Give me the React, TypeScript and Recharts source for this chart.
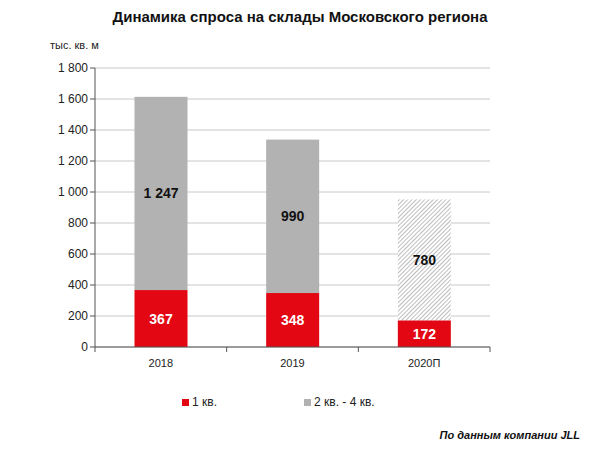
import React from 'react';
import { BarChart, Bar, XAxis, YAxis, CartesianGrid, LabelList } from 'recharts';

const years = ['2018', '2019', '2020П'];
const firstQuarter = [367, 348, 172];
const restOfYear = [1247, 990, 780];
const yTicks = [0, 200, 400, 600, 800, 1000, 1200, 1400, 1600, 1800];

const data = years.map((year, i) => ({
  year,
  q1: firstQuarter[i],
  rest: restOfYear[i],
  forecast: i === years.length - 1,
}));

const RED = '#e30613';
const GRAY = '#b2b2b2';
const FONT = '"Liberation Sans", Arial, sans-serif';

// 1800 -> "1 800"
const fmt = (v: number | string) => String(v).replace(/\B(?=(\d{3})+(?!\d))/g, ' ');
// same, but with a no-break space so bar labels stay on one line
const fmtLabel = (v: number | string) => String(v).replace(/\B(?=(\d{3})+(?!\d))/g, '\u00a0');

// category ticks, plus tick marks at the category boundaries
const XTick = (props: any) => {
  const { x, y, payload, index } = props;
  const band = 395 / 3;
  return (
    <g>
      {index === 0 && <line x1={x - band / 2} x2={x - band / 2} y1={y - 8} y2={y - 3} stroke="#555" />}
      <line x1={x + band / 2} x2={x + band / 2} y1={y - 8} y2={y - 3} stroke="#555" />
      <text x={x} y={y + 12} textAnchor="middle" fontSize={11} fill="#222" fontFamily={FONT}>
        {payload.value}
      </text>
    </g>
  );
};

const RestShape = (props: any) => {
  const { x, y, width, height, payload } = props;
  return (
    <rect x={x} y={y} width={width} height={height} fill={payload.forecast ? 'url(#hatch)' : GRAY} />
  );
};

const legendItem = (color: string, label: string, left: number) => (
  <div style={{ position: 'absolute', left, top: 0, display: 'flex', alignItems: 'center', whiteSpace: 'nowrap' }}>
    <span style={{ width: 7, height: 7, background: color, marginRight: 3, display: 'inline-block' }} />
    {label}
  </div>
);

export default function App() {
  return (
    <div style={{ position: 'absolute', left: 0, top: 0, width: 600, height: 450, background: '#fff', fontFamily: FONT }}>
      <div style={{ position: 'absolute', top: 8, width: 600, textAlign: 'center', fontWeight: 'bold', fontSize: 15, color: '#111' }}>
        Динамика спроса на склады Московского региона
      </div>
      <div style={{ position: 'absolute', top: 39, left: 50, fontSize: 11, color: '#222' }}>тыс. кв. м</div>
      <BarChart
        width={600}
        height={450}
        data={data}
        margin={{ top: 68, right: 110, bottom: 73, left: 0 }}
        barCategoryGap="30%"
      >
        <defs>
          <pattern id="hatch" width="3" height="3" patternUnits="userSpaceOnUse" patternTransform="rotate(45)">
            <rect width="3" height="3" fill="#fff" />
            <line x1="0" y1="0" x2="0" y2="3" stroke="#9a9a9a" strokeWidth="1.3" />
          </pattern>
        </defs>
        <CartesianGrid vertical={false} stroke="#c8c8c8" />
        <XAxis
          dataKey="year"
          stroke="#555"
          tickLine={false}
          tick={<XTick />}
          interval={0}
          height={30}
        />
        <YAxis
          width={95}
          domain={[0, 1800]}
          ticks={yTicks}
          tickFormatter={fmt}
          stroke="#555"
          tickSize={5}
          tick={{ fontSize: 12, fill: '#222', fontFamily: FONT }}
          interval={0}
        />
        <Bar dataKey="q1" stackId="a" fill={RED} isAnimationActive={false}>
          <LabelList dataKey="q1" position="center" formatter={fmtLabel} fill="#fff" fontWeight="bold" fontSize={14} fontFamily={FONT} />
        </Bar>
        <Bar dataKey="rest" stackId="a" fill={GRAY} shape={<RestShape />} isAnimationActive={false}>
          <LabelList dataKey="rest" position="center" formatter={fmtLabel} fill="#111" fontWeight="bold" fontSize={14} fontFamily={FONT} />
        </Bar>
      </BarChart>
      <div style={{ position: 'absolute', top: 395, left: 0, width: 600, fontSize: 12, color: '#222' }}>
        {legendItem(RED, '1 кв.', 182)}
        {legendItem(GRAY, '2 кв. - 4 кв.', 304)}
      </div>
      <div style={{ position: 'absolute', top: 429, right: 20, fontSize: 11, fontWeight: 'bold', fontStyle: 'italic', color: '#111' }}>
        По данным компании JLL
      </div>
    </div>
  );
}
